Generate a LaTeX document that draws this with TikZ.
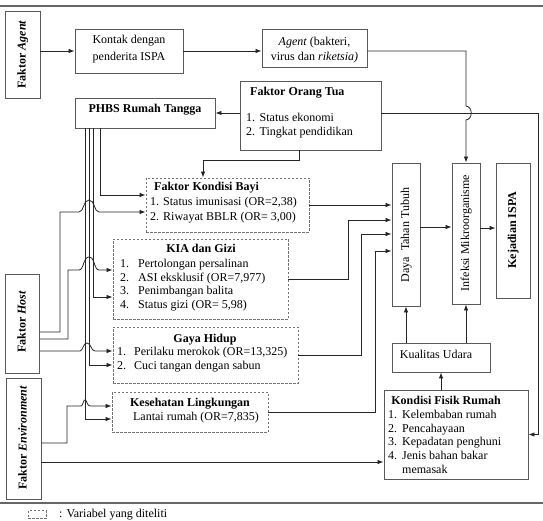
\documentclass[tikz,border=0pt]{standalone}
\usepackage{fontspec}
\setmainfont{Liberation Serif}
\usetikzlibrary{arrows.meta}
\newcommand{\fs}{\fontsize{12}{13.5}\selectfont}
\newcommand{\numbx}[2]{\makebox[#1][l]{#2}}
\begin{document}
\begin{tikzpicture}[x=1pt,y=-1pt,
  box/.style={draw=black!65, line width=0.9pt, inner sep=0pt},
  dbox/.style={draw=black!55, line width=0.9pt, dash pattern=on 2.5pt off 1.5pt, inner sep=0pt},
  t/.style={inner sep=0pt, text height=9pt, text depth=3pt, font=\fs},
  tb/.style={inner sep=0pt, text height=9pt, text depth=3pt, font=\fs\bfseries},
  tm/.style={inner sep=0pt, font=\fs},
  con/.style={draw=black!85, line width=0.8pt},
  arr/.style={con, -{Latex[length=6pt,width=4.5pt]}},
  rulel/.style={draw=black!60, line width=1.2pt}]
\useasboundingbox (0,0) rectangle (543,521);
\clip (0,0) rectangle (543,521);
\draw[rulel] (0,6) -- (543,6);
\draw[rulel] (0,503) -- (543,503);

% helper coordinates
\coordinate (X85) at (85,0);
\coordinate (X89) at (89,0);
\coordinate (X93) at (93,0);
\coordinate (X100) at (100,0);
\coordinate (X203) at (203,0);
\coordinate (X348) at (348,0);
\coordinate (X361) at (361,0);
\coordinate (X375) at (375,0);
\foreach \v in {195,212,227,228,220,234,251,270,297,332,339,351,365,406,419,443,462}
  {\coordinate (L\v) at (0,\v);}

% boxes
\node[box, minimum width=35pt, minimum height=87pt] (agentf) at (22.5,54.5) {};
\node[tb, rotate=90] (agentfT) at (agentf.center) {Faktor \textit{Agent}};

\node[box, minimum width=108pt, minimum height=44pt] (kontak) at (129,51) {};
\node[tm, align=center] (kontakT) at (129,49) {Kontak dengan\\[3.5pt]penderita ISPA};

\node[box, minimum width=105pt, minimum height=38pt] (agentb) at (314.5,48) {};
\node[tm, align=center] (agentbT) at (314.5,50) {\textit{Agent} (bakteri,\\[1.5pt]virus dan \textit{riketsia)}};

\node[box, minimum width=140pt, minimum height=30pt] (phbs) at (145,113) {};
\node[tb] (phbsT) at (145,110) {PHBS Rumah Tangga};

\node[box, minimum width=141pt, minimum height=69pt] (ortu) at (310.5,115.5) {};
\node[tb, anchor=west] (ortuT) at (250,93) {Faktor Orang Tua};
\node[t, anchor=west] (ortu1) at (246,119) {\numbx{13.5pt}{1.}Status ekonomi};
\node[t, anchor=west] (ortu2) at (246,133) {\numbx{13.5pt}{2.}Tingkat pendidikan};

\node[dbox, minimum width=163pt, minimum height=54pt] (kbayi) at (227.5,205) {};
\node[tb, anchor=west] (kbayiT) at (154,187.5) {Faktor Kondisi Bayi};
\node[t, anchor=west] (kbayi1) at (150,202.5) {\numbx{13pt}{1.}Status imunisasi (OR=2,38)};
\node[t, anchor=west] (kbayi2) at (150,217.5) {\numbx{13pt}{2.}Riwayat BBLR (OR= 3,00)};

\node[dbox, minimum width=175pt, minimum height=80pt] (kia) at (200.5,279) {};
\node[tb] (kiaT) at (201,250) {KIA dan Gizi};
\node[t, anchor=west] (kia1) at (120,264) {\numbx{18pt}{1.}Pertolongan persalinan};
\node[t, anchor=west] (kia2) at (120,278) {\numbx{18pt}{2.}ASI eksklusif (OR=7,977)};
\node[t, anchor=west] (kia3) at (120,291.5) {\numbx{18pt}{3.}Penimbangan balita};
\node[t, anchor=west] (kia4) at (120,305) {\numbx{18pt}{4.}Status gizi (OR= 5,98)};

\node[dbox, minimum width=185pt, minimum height=56pt] (gaya) at (205.5,355) {};
\node[tb] (gayaT) at (205,339) {Gaya Hidup};
\node[t, anchor=west] (gaya1) at (117,352) {\numbx{17pt}{1.}Perilaku merokok (OR=13,325)};
\node[t, anchor=west] (gaya2) at (117,366) {\numbx{17pt}{2.}Cuci tangan dengan sabun};

\node[dbox, minimum width=156pt, minimum height=40pt] (kesling) at (190,412) {};
\node[tb] (keslingT) at (190,403) {Kesehatan Lingkungan};
\node[t] (kesling1) at (196,417) {Lantai rumah (OR=7,835)};

\node[box, minimum width=28pt, minimum height=143pt] (daya) at (406,234.5) {};
\node[t, rotate=90] (dayaT) at (406,235) {Daya~ Tahan Tubuh};

\node[box, minimum width=28pt, minimum height=141pt] (infeksi) at (466,233.5) {};
\node[t, rotate=90] (infeksiT) at (466,233) {Infeksi Mikroorganisme};

\node[box, minimum width=34pt, minimum height=135pt] (kejadian) at (513,230.5) {};
\node[tb, rotate=90] (kejadianT) at (513,230) {Kejadian ISPA};

\node[box, minimum width=98pt, minimum height=29pt] (kualitas) at (441,357.5) {};
\node[t] (kualitasT) at (436,355) {Kualitas Udara};

\node[box, minimum width=144pt, minimum height=89pt] (kfisik) at (456,434.5) {};
\node[tb] (kfisikT) at (446,401) {Kondisi Fisik Rumah};
\node[t, anchor=west] (kf1) at (388,415.5) {\numbx{14pt}{1.}Kelembaban rumah};
\node[t, anchor=west] (kf2) at (388,429) {\numbx{14pt}{2.}Pencahayaan};
\node[t, anchor=west] (kf3) at (388,442.5) {\numbx{14pt}{3.}Kepadatan penghuni};
\node[t, anchor=west] (kf4) at (388,456) {\numbx{14pt}{4.}Jenis bahan bakar};
\node[t, anchor=west] (kf5) at (402,470) {memasak};

\node[box, minimum width=34pt, minimum height=99pt] (host) at (22.5,323.5) {};
\node[tb, rotate=90] (hostT) at (22.5,322) {Faktor \textit{Host}};

\node[box, minimum width=35pt, minimum height=121pt] (env) at (23.5,438.5) {};
\node[tb, rotate=90] (envT) at (23.5,438) {Faktor \textit{Environment}};

% legend
\node[dbox, minimum width=18pt, minimum height=8pt] (leg) at (37,514.5) {};
\node[t, anchor=west] (legT) at (59,514) {: Variabel yang diteliti};

% connectors
\draw[arr] (agentf.east |- kontak.west) -- (kontak.west);
\draw[arr] (kontak.east) -- (kontak.east -| agentb.west);
\draw[arr] (agentb.east |- kontak.east) -- (466,51) -- (466,106)
   .. controls (473,107) and (473,119) .. (466,120) -- (infeksi.north);
\draw[arr] (ortu.west |- phbs.east) -- (phbs.east);
\draw[arr] ([yshift=2.5pt]ortu.east) -- (538,113) |- (kfisik.east);
\draw[arr] ([xshift=-11.5pt]ortu.south) |- (203,160) -- (kbayi.north -| X203);

\draw[arr] (phbs.south -| X100) |- (kbayi.west |- L195);
\draw[arr] (phbs.south -| X93) |- (kia.west |- L297);
\draw[arr] (phbs.south -| X89) |- (gaya.west |- L365);
\draw[arr] (phbs.south -| X85) |- (kesling.west |- L419);

\draw[arr] (host.east |- L332) -- (60,332) -- (60,212) -- (79,212)
   .. controls (84,212) and (83,200) .. (89,200)
   .. controls (95,200) and (94,212) .. (99,212) -- (kbayi.west |- L212);
\draw[arr] (host.east |- L339) -- (68,339) -- (68,270) -- (79,270)
   .. controls (84,270) and (83,257) .. (89,257)
   .. controls (95,257) and (94,270) .. (99,270) -- (kia.west |- L270);
\draw[arr] (host.east |- L351) -- (80,351)
   .. controls (83,351) and (83,343) .. (87,343)
   .. controls (91,343) and (91,351) .. (95,351) -- (gaya.west |- L351);
\draw[arr] (env.east |- L443) -- (67,443) -- (67,406) -- (81,406)
   .. controls (83,406) and (83,400) .. (85,400)
   .. controls (87,400) and (87,406) .. (90,406) -- (kesling.west |- L406);
\draw[arr] (env.east |- L462) -- (kfisik.west |- L462);

\draw[arr] (kbayi.east) -- (kbayi.east -| daya.west);
\draw[arr] (kia.east) -| (X348 |- L220) -- (daya.west |- L220);
\draw[arr] (gaya.east) -| (X361 |- L234) -- (daya.west |- L234);
\draw[arr] (kesling.east) -| (X375 |- L251) -- (daya.west |- L251);

\draw[arr] (daya.east |- L227) -- (infeksi.west |- L227);
\draw[arr] (infeksi.east |- L228) -- (kejadian.west |- L228);
\draw[arr] (kualitas.north -| daya.south) -- (daya.south);
\draw[arr] (kualitas.north -| infeksi.south) -- (infeksi.south);
\draw[arr] (kfisik.north -| kualitas.south) -- (kualitas.south);
\end{tikzpicture}
\end{document}
